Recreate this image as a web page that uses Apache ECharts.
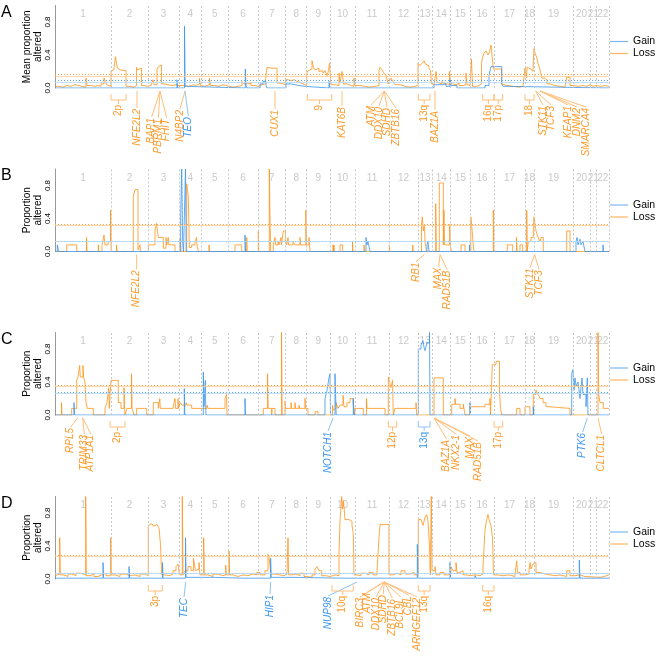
<!DOCTYPE html>
<html><head><meta charset="utf-8">
<script src="https://cdn.jsdelivr.net/npm/echarts@6/dist/echarts.min.js"></script>
<style>html,body{margin:0;padding:0;background:#fff}#c{width:669px;height:656px}</style>
</head><body><div id="c"></div>
<script>
// ---------- chromosome layout (genomic index units) ----------
const chrNames = ['1','2','3','4','5','6','7','8','9','10','11','12','13','14','15','16','17','18','19','20','21','22'];
const chrStarts = [0,56,93,124,146.7,173,203,230.7,251.7,275,300,334,363,377,395.7,415,439,470,479,518,535,541.7,554];

// ---------- panel A : mean proportion altered ----------
const lossA = [[0,0.02],[4,0.01],[8,0.03],[12,0.02],[16,0.04],[20,0.05],[22,0.02],[27,0.01],[31,0.12],[32,0.03],[36,0.02],[40,0.03],[43,0.02],[46,0.05],[49,0.12],[50.5,0.08],[51.5,0.04],[53,0.02],
[56,0.21],[57,0.22],[59,0.25],[60.5,0.38],[61.5,0.30],[62.5,0.24],[64,0.22],[65,0.21],[71,0.02],[75,0.01],[79,0.03],[81.5,0.25],[82.5,0.22],[84,0.24],[86.5,0.03],[89,0.02],
[93,0.03],[96,0.05],[98,0.10],[99,0.04],[102,0.23],[103.5,0.26],[104.5,0.28],[106.5,0.05],[109,0.04],[113,0.03],[117,0.04],[121,0.03],
[124,0.03],[128,0.05],[130,0.02],[134,0.04],[138,0.03],[141,0.05],[144.5,0.12],[145.5,0.03],
[147,0.02],[150,0.04],[154.5,0.12],[155.5,0.03],[160,0.02],[164,0.04],[168,0.03],[171,0.02],
[173,0.01],[178,0.02],[183,0.03],[187,0.08],[189,0.05],[193,0.06],[196,0.03],[200,0.02],
[203,0.04],[207,0.05],[210,0.03],[212,0.25],[214,0.24],[217,0.26],[219,0.24],[222,0.06],[225,0.05],[228,0.04],
[230.7,0.10],[233,0.09],[236,0.10],[239,0.08],[242,0.07],[245,0.05],[248,0.04],[250,0.03],
[251.7,0.18],[253,0.21],[255,0.23],[257,0.33],[258.5,0.25],[260,0.22],[262,0.24],[264,0.20],[266,0.21],[268,0.18],[270,0.21],[272,0.15],[273.5,0.21],[274.5,0.30],
[275,0.22],[276,0.04],[280,0.03],[284,0.18],[285,0.06],[287,0.20],[288.5,0.05],[292,0.03],[296,0.02],[299,0.12],
[300,0.03],[305,0.02],[310,0.01],[315,0.02],[320,0.03],[324,0.21],[325,0.25],[327,0.22],[329,0.18],[331,0.15],[333,0.05],
[334,0.08],[336,0.12],[338,0.08],[340,0.04],[345,0.02],[350,0.01],[355,0.02],[360,0.03],
[363,0.30],[365,0.27],[367,0.30],[369,0.33],[370.5,0.29],[372,0.27],[374,0.24],[375.5,0.21],[376.5,0.05],
[377,0.04],[379,0.03],[381,0.20],[382,0.07],[384,0.05],[387,0.08],[389,0.05],[392,0.04],[394.5,0.20],
[395.7,0.05],[398,0.04],[401,0.06],[404,0.03],[408,0.04],[411,0.18],[412,0.04],[414,0.03],
[415,0.02],[416.5,0.35],[417.5,0.02],[421,0.03],[424,0.05],[426.5,0.30],[427.5,0.37],[429,0.42],[431,0.45],[433,0.40],[434.5,0.44],[436,0.52],[437,0.40],[438.3,0.23],
[439,0.23],[446.7,0.05],[448,0.03],[452,0.02],[458,0.01],[464,0.02],[468,0.03],
[470,0.24],[471.5,0.12],[472,0.25],[474,0.23],[476,0.25],[478,0.20],
[479,0.48],[480,0.42],[481.5,0.38],[483,0.30],[485,0.22],[487,0.12],[489.5,0.10],[492,0.05],[495,0.03],[500,0.02],[505,0.01],[510,0.03],[511.7,0.13],[515,0.03],
[518,0.02],[523,0.03],[528,0.02],[532,0.04],[535,0.02],[538,0.03],[541.7,0.02],[546,0.03],[550,0.02],[554,0.02]];
const gainA = [[0,0],[30,0.02],[31,0],[108,0.02],[109,0],[122,0.10],[122.7,0],[129.5,0.75],[130.2,0.02],[131,0],[190.3,0.23],[191,0.03],[192,0],[205,0.05],[208,0.08],[211,0.03],[212,0],[231,0.05],[236,0.06],[238,0.03],[244,0.02],[250,0],[274,0.08],[275,0],[379,0.04],[388,0.05],[391,0.02],[395,0.10],[396,0.03],[402,0],[430,0.03],[434,0.15],[436,0.26],[446.7,0.05],[448,0.02],[452,0],[554,0]];

// ---------- panel B ----------
const lossB = [[0,0],[11.7,0.08],[21.7,0],[31.5,0.17],[32,0],[43.3,0.08],[43.8,0],[47,0.08],[49,0.2],[50,0.08],[53,0.12],[55.5,0.5],[56.2,0],[61.5,0.08],[62,0],[78.3,0.67],[80,0.75],[83,0.02],[85,0.08],[85.5,0],
[93.3,0.08],[100,0.25],[101.5,0.34],[102.5,0.25],[103.3,0.17],[108.3,0.04],[111,0.17],[111.8,0.08],[113.3,0.17],[113.8,0.08],[120,0],
[125,0.15],[125.7,0.05],[126,0],[131.7,0.82],[132.5,0.75],[133.3,0.67],[134.3,0.05],[136.7,0.08],[140,0.12],[141.5,0.17],[142,0.08],[143.3,0],
[154,0.08],[154.5,0],[180,0.08],[186.7,0],[191.7,0.17],[192.2,0],[203.3,0.25],[203.8,0],
[214.3,1.0],[215,0.42],[215.7,0],[218.3,0.08],[220,0.17],[220.5,0.08],[223,0.12],[224,0.08],[226,0.17],[226.5,0.08],[228.3,0.25],[230.5,0.12],[231.7,0.08],[233,0.17],[233.5,0.08],[238,0.12],[240,0.08],[245,0.17],[245.5,0.08],[250.8,0.5],[251.5,0.08],[254,0.17],[255,0],[278,0.08],[278.5,0],
[279,0.08],[279.5,0],[285,0.08],[287.7,0],[297.5,0.12],[298,0],[309,0.08],[309.5,0],[334.3,0.08],[334.8,0],[357.7,0.08],[358.2,0],
[366.5,0.33],[367.3,0.42],[368.3,0.25],[369.5,0.33],[370,0.12],[371.5,0],
[380.7,0.58],[381.3,0],[384.3,0.83],[388.3,0.08],[389,0.5],[389.6,0.08],[394.7,0.33],[395.2,0.08],[396.5,0],
[406,0.08],[410,0],[415.8,0.42],[416.5,0.33],[417.2,0.25],[418,0.12],[419,0],[438.3,0.5],[438.8,0],
[452.3,0.08],[457.7,0],[461.5,0.17],[462,0],[465,0.08],[467.7,0],
[471.7,0.5],[472.2,0],[473.3,0.12],[476,0.17],[478.3,0.25],[479,0.42],[480,0.33],[481,0.25],[483,0.17],[485,0.12],[486,0.17],[488.3,0],
[511.7,0.25],[515,0],[554,0]];
const gainB = [[0,0],[2.3,0.08],[3.7,0],[125.7,0.45],[126.7,1.0],[127.7,0.1],[128.5,0],[130.5,1.0],[131.2,0],[190,0.2],[190.5,0],[311,0.17],[312,0.08],[313,0.12],[315,0],[372,0.08],[373,0.12],[374,0],[414.5,0.08],[415,0],[521,0.12],[522,0.17],[523,0.08],[525,0.15],[526,0.08],[528,0.12],[530,0],[548,0.08],[548.5,0],[554,0]];

// ---------- panel C ----------
const lossC = [[0,0],[6.5,0.15],[7,0],[16.7,0.08],[21.7,0.42],[23,0.46],[24.7,0.6],[25.3,0.46],[28,0.6],[28.6,0.46],[30,0.4],[31,0.15],[32.3,0.08],[38.3,0],
[50,0.08],[52,0.15],[53.7,0.33],[54.3,0.08],[56,0.42],[63.3,0.15],[66,0.08],[69,0.33],[69.6,0.08],[70,0],[72,0.08],[76.5,0.5],[77.1,0.08],[79,0],[81.7,0.08],[91.7,0],
[98.3,0.15],[103.3,0.08],[104.8,0.2],[105.3,0.08],[118,0.08],[120,0.2],[120.6,0.08],[123,0.2],[123.5,0.08],[125,0.15],[127,0.12],[131,0.15],[132,0.12],[136.7,0.08],
[148,0.08],[152,0.12],[153,0.08],[170,0.2],[171.5,0.25],[172,0],
[208.3,0.08],[212.5,0.5],[213.2,0.08],[216.7,0],[217,0.08],[220,0],[226.5,1.0],[227.2,0],
[230,0.17],[230.6,0.08],[236,0.15],[236.5,0.08],[240,0.15],[240.5,0.08],[244,0.12],[244.6,0.08],[250,0.2],[250.6,0.08],[253,0],[260,0.04],[263,0],[277.5,0.12],[278.3,0.06],
[279,0.08],[281,0.15],[283,0.08],[285,0.12],[288,0.24],[289,0.1],[292,0.15],[295,0.2],[298,0.15],[299.5,0],
[300,0.08],[308.3,0],[311.5,0.2],[312,0.08],[330,0],
[333.3,0.46],[334.5,0.4],[336,0.33],[337.5,0.42],[338.3,0],[340,0.08],[361,0.15],[361.7,0],
[379,0.45],[388.3,0],[396.7,0.13],[400,0.2],[400.5,0.13],[405,0.08],[408.3,0.13],[410,0],
[415,0.1],[430,0.13],[435,0.2],[435.5,0],[437.3,0.61],[441,0.65],[444.5,0.3],[445.5,0.08],[446.7,0],
[461.7,0.08],[465,0],[470,0.1],[475,0],[478.3,0.25],[481,0.3],[483,0.25],[485,0.2],[488,0.15],[491,0.1],[495,0.08],[515,0],
[543,1.0],[543.7,0.25],[545,0.15],[548.3,0.08],[554,0.08]];
const gainC = [[0,0],[19,0.15],[19.5,0],[129.3,0.32],[129.8,0],[148.3,0.52],[149,0.1],[150.3,0.42],[150.9,0],[190,0.2],[190.5,0],[270,0.2],[272,0.3],[274,0.45],[275,0.5],[275.5,0],[280,0.5],[280.6,0.25],[281.2,0],[298.3,0.2],[299,0],[363.3,0.8],[366,0.85],[368,0.9],[369,0.82],[370,0.78],[372,0.88],[374.5,1.0],[375,0],[415,0.15],[415.5,0],[478.3,0.1],[479,0],[516.7,0.5],[518,0.55],[519,0.3],[520,0.45],[521,0.35],[523,0.4],[525,0.2],[527,0.45],[528,0.25],[531,0.1],[532.3,0.45],[533,0],[554,0]];

// ---------- panel D ----------
const lossD = [[0,0.04],[2,0.06],[4.7,0.5],[5.3,0.05],[9,0.03],[13,0.06],[17,0.04],[21,0.07],[25,0.05],[30.7,1.0],[31.3,0.04],[35,0.06],[39,0.03],[43,0.05],[47,0.07],[51,0.04],[55.7,0.5],[56.3,0.05],[60,0.03],[65,0.06],[70,0.04],[75,0.05],[80,0.03],[85,0.06],[90,0.08],[92,0.04],
[93.3,0.65],[95,0.67],[97,0.69],[98.5,0.64],[100,0.66],[102,0.65],[104,0.62],[105.5,0.42],[106.7,0.05],[110,0.04],[114,0.06],[118,0.1],[121,0.15],[123,0.18],[124.5,0.05],
[127.3,1.0],[128,0.05],[130,0.1],[133,0.15],[136,0.1],[138.5,0.25],[139.5,0.27],[140.5,0.1],[142,0.12],[144,0.2],[145,0.05],
[148.7,0.5],[149.3,0.05],[153,0.03],[158,0.06],[163,0.04],[168,0.05],[170.7,0.17],[171.3,0.05],[174,0.34],[174.6,0.05],[178,0.03],[183,0.05],[188,0.04],[193,0.06],[198,0.05],[202,0.08],
[205,0.05],[210,0.1],[213,0.3],[214,0.27],[215,0.15],[216,0.06],[220,0.05],[225,0.04],[229,0.06],
[232,0.04],[233,0.5],[233.6,0.05],[237,0.06],[241,0.04],[245,0.07],[249,0.03],
[252,0.02],[257,0.05],[260,0.12],[262,0.15],[264,0.1],[266.7,0.04],[271,0.03],
[275,0.05],[280,0.04],[284,0.3],[285,0.7],[286.7,1.0],[287.5,0.85],[288.5,0.95],[290,0.72],[294,0.7],[297,0.65],[298.3,0.55],[299,0.05],
[302,0.04],[306,0.07],[310,0.05],[314,0.08],[318,0.05],[322,0.1],[324,0.5],[325,0.66],[334,0.05],
[338,0.07],[342,0.05],[346,0.1],[350,0.06],[355,0.08],[359,0.05],
[363.3,0.72],[366,0.7],[368,0.65],[370,0.75],[371.7,0.78],[373,0.7],[374.5,0.4],[375.3,0.05],[376.3,1.0],[377,0.1],[380,0.15],[381,0.05],[385,0.08],[389,0.05],[393,0.06],
[396,0.15],[398,0.1],[401,0.2],[402,0.08],[405,0.1],[408,0.05],[412,0.04],
[415,0.05],[420,0.04],[425,0.06],[428,0.15],[430,0.6],[431.7,0.72],[433,0.78],[434.5,0.7],[436,0.65],[437.5,0.5],[438.5,0.05],
[442,0.04],[448,0.05],[454,0.03],[460,0.06],[461.7,0.22],[462.5,0.08],[465,0.05],[470,0.06],
[474,0.1],[475,0.2],[476,0.12],[478,0.18],[480,0.2],[481,0.08],[485,0.06],[490,0.04],[500,0.05],[505,0.03],[511.7,0.1],[515,0.04],[520,0.05],[525,0.03],[530,0.02],[545,0.03],[549,0.05],[554,0.05]];
const gainD = [[0,0.01],[10,0.03],[11,0.01],[25,0.02],[26,0.01],[48,0.2],[48.6,0.01],[74,0.15],[74.6,0.01],[107.5,0.2],[108.1,0.01],[130.5,0.5],[131.1,0.02],[160,0.03],[161,0.01],[188,0.03],[189,0.01],[215.6,0.25],[216.2,0.02],[236,0.03],[237,0.01],[290,0.03],[291,0.01],[362.3,0.42],[363,0.01],[395,0.2],[395.6,0.01],[420,0.04],[421,0.01],[524.3,0.23],[525,0.01],[554,0.01]];

// thresholds per panel (A,B,C,D)
const lossThreshold = [0.17, 0.325, 0.36, 0.29];
const lossBand      = [0.145, 0.32, 0.355, 0.285];
const gainThreshold = [0.085, 0.12, 0.275, 0.07];
const gainBand      = [0.07, 0.115, 0.26, 0.065];

const panelLetters = ['A','B','C','D'];
const yTitles = ['Mean proportion\naltered','Proportion\naltered','Proportion\naltered','Proportion\naltered'];

// annotations: g = gene index, l = label index, d = label drop below baseline (px), arm = [from,to]
const annotations = [
 [ {t:'2p',arm:[56,71],c:'L'}, {t:'NFE2L2',g:82,l:82,d:21,c:'L'},
   {t:'BAP1',g:105,l:96.7,d:30,c:'L'},{t:'PBRM1',g:105,l:103.3,d:31,c:'L'},{t:'FHIT',g:105,l:111.7,d:31,c:'L'},
   {t:'N4BP2',g:130,l:125,d:22,c:'L'},{t:'TEO',g:130,l:133.3,d:29,c:'G'},
   {t:'CUX1',g:220,l:220,d:22,c:'L'}, {t:'9',arm:[252.3,276.7],c:'L'}, {t:'KAT6B',g:287,l:287,d:19,c:'L'},
   {t:'ATM',g:329.3,l:316,d:18,c:'L'},{t:'DDX10',g:329.3,l:324,d:19,c:'L'},{t:'SDHD',g:329.3,l:332,d:20,c:'L'},{t:'ZBTB16',g:329.3,l:341,d:21,c:'L'},
   {t:'13q',arm:[363.3,375],c:'L'}, {t:'BAZ1A',g:380,l:380,d:23,c:'L'},
   {t:'16q',arm:[427.7,439],c:'L'}, {t:'17p',arm:[439,447.7],c:'L'}, {t:'18',arm:[470,479],c:'L'},
   {t:'STK11',g:480.7,l:488,d:18,c:'L'},{t:'TCF3',g:480.7,l:496,d:18,c:'L'},
   {t:'KEAP1',g:485,l:513,d:18,c:'L'},{t:'DNM2',g:485,l:522,d:20,c:'L'},{t:'SMARCA4',g:485,l:531,d:20,c:'L'} ],
 [ {t:'NFE2L2',g:81.7,l:81.7,d:19,c:'L'}, {t:'RB1',g:369.3,l:361,d:11,c:'L'},
   {t:'MAX',g:385,l:383.7,d:16,c:'L'},{t:'RAD51B',g:385,l:392,d:19,c:'L'},
   {t:'STK11',g:479.7,l:475,d:17,c:'L'},{t:'TCF3',g:479.7,l:484,d:19,c:'L'} ],
 [ {t:'RPL5',g:22.7,l:15.7,d:13,c:'L'},{t:'TRIM33',g:27.7,l:29.3,d:20,c:'L'},{t:'ATP1A1',g:27.7,l:35.7,d:20,c:'L'},
   {t:'2p',arm:[55,70],c:'L'}, {t:'NOTCH1',g:278,l:273,d:17,c:'G'}, {t:'12p',arm:[333.3,341.7],c:'L'},
   {t:'13q',arm:[363.3,375],c:'G'},
   {t:'BAZ1A',g:379,l:391.7,d:25,c:'L'},{t:'NKX2-1',g:379,l:401,d:20,c:'L'},{t:'MAX',g:379,l:415,d:22,c:'L'},{t:'RAD51B',g:379,l:423,d:27,c:'L'},
   {t:'17p',arm:[439,447.7],c:'L'}, {t:'PTK6',g:532.3,l:527.7,d:18,c:'G'}, {t:'CLTCL1',g:543,l:546.7,d:20,c:'L'} ],
 [ {t:'3p',arm:[93.3,107.3],c:'L'}, {t:'TEC',g:130.7,l:129,d:19,c:'G'}, {t:'HIP1',g:215.7,l:215,d:16,c:'G'},
   {t:'NUP98',g:302,l:273,d:18,c:'G'}, {t:'10q',arm:[277,298.3],c:'L'},
   {t:'BIRC3',g:329.3,l:305,d:19,c:'L'},{t:'ATM',g:329.3,l:312.3,d:14,c:'L'},{t:'DDX10',g:329.3,l:321,d:19,c:'L'},{t:'SDHD',g:329.3,l:328.3,d:16,c:'L'},
   {t:'ZBTB16',g:329.3,l:337.3,d:20,c:'L'},{t:'BCL9L',g:329.3,l:345.7,d:19,c:'L'},{t:'CBL',g:329.3,l:353.7,d:17,c:'L'},{t:'ARHGEF12',g:329.3,l:362.3,d:19,c:'L'},
   {t:'13q',arm:[363.3,375],c:'L'}, {t:'16q',arm:[427.7,439],c:'L'} ]
];

// ---------- styling ----------
const FONT = '"Liberation Sans", Arial, Helvetica, sans-serif';
const LOSS = '#FF9419', GAIN = '#3A95EE';
const LOSS_TXT = '#FF9A2A', GAIN_TXT = '#3D98EE';
const LOSS_LN = '#FFBE78', GAIN_LN = '#8EC3F3';
const gridTops = [5.5, 169, 332.5, 496.5];
const gridH = 82.5;
const legendTops = [36, 199.5, 362.5, 526.5];

const lossData = [lossA, lossB, lossC, lossD];
const gainData = [gainA, gainB, gainC, gainD];

const chart = echarts.init(document.getElementById('c'), null, {renderer: 'canvas'});

const grids = [], xAxes = [], yAxes = [], series = [], legends = [];
const chrMid = chrNames.map((n, i) => [(chrStarts[i] + chrStarts[i+1]) / 2, 0.89, n]);

for (let p = 0; p < 4; p++) {
  grids.push({left: 55, width: 554, top: gridTops[p], height: gridH, containLabel: false});
  xAxes.push({type: 'value', gridIndex: p, min: 0, max: 554, show: false});
  yAxes.push({type: 'value', gridIndex: p, min: 0, max: 1, interval: 0.4,
    name: yTitles[p], nameLocation: 'middle', nameGap: 11, nameRotate: 90, nameMoveOverlap: false,
    nameTextStyle: {fontFamily: FONT, fontSize: 10, color: '#000', lineHeight: 11},
    axisLine: {show: true, lineStyle: {color: '#999', width: 1}},
    axisTick: {show: false},
    splitLine: {show: false},
    axisLabel: {rotate: 90, margin: 3, fontFamily: FONT, fontSize: 8, color: '#000',
      formatter: v => v > 0.9 ? '' : v.toFixed(1)}
  });
  // chromosome labels + boundaries
  series.push({type: 'scatter', xAxisIndex: p, yAxisIndex: p, data: chrMid, symbolSize: 0, silent: true,
    label: {show: true, position: 'inside', formatter: d => d.data[2], color: '#BBBBBB', fontSize: 10, fontFamily: FONT},
    markLine: {silent: true, symbol: 'none', label: {show: false},
      lineStyle: {color: '#C8C8C8', type: [2, 2], width: 1},
      data: chrStarts.slice(1).map(v => ({xAxis: v}))}
  });
  series.push({name: 'Loss', type: 'line', step: 'end', xAxisIndex: p, yAxisIndex: p, data: lossData[p],
    symbol: 'none', showSymbol: false, color: LOSS, lineStyle: {color: LOSS, width: 1, opacity: 0.8}, z: 3,
    markLine: {silent: true, symbol: 'none', label: {show: false}, data: [
      {yAxis: lossThreshold[p], lineStyle: {color: '#FFA040', type: [1, 2], width: 1}},
      {yAxis: lossBand[p], lineStyle: {color: '#FFCB94', type: 'solid', width: 1.2, opacity: 0.8}}
    ]}
  });
  series.push({name: 'Gain', type: 'line', step: 'end', xAxisIndex: p, yAxisIndex: p, data: gainData[p],
    symbol: 'none', showSymbol: false, color: GAIN, lineStyle: {color: GAIN, width: 1, opacity: 0.8}, z: 4,
    markLine: {silent: true, symbol: 'none', label: {show: false}, data: [
      {yAxis: gainThreshold[p], lineStyle: {color: '#5AA8F0', type: [1, 2], width: 1}},
      {yAxis: gainBand[p], lineStyle: {color: '#B5D8F7', type: 'solid', width: 1.2, opacity: 0.8}}
    ]}
  });
  legends.push({data: [{name: 'Gain', itemStyle: {color: '#7DB7F2'}}, {name: 'Loss', itemStyle: {color: '#FFB462'}}],
    orient: 'vertical', left: 610, top: legendTops[p], padding: 0,
    icon: 'rect', itemWidth: 18, itemHeight: 1.2, itemGap: 1, itemTextGap: 7, selectedMode: false,
    textStyle: {fontFamily: FONT, fontSize: 10.5, color: '#000', lineHeight: 11}});
}

chart.setOption({
  animation: false,
  backgroundColor: '#fff',
  grid: grids, xAxis: xAxes, yAxis: yAxes, series: series, legend: legends
});

// ---------- annotations (placed via the chart's own scales) ----------
const graphics = [];
panelLetters.forEach((L, p) => {
  graphics.push({type: 'text', left: 1, top: gridTops[p] - 1,
    style: {text: L, font: '16px ' + FONT, fill: '#000'}});
});
annotations.forEach((list, p) => {
  const base = chart.convertToPixel({gridIndex: p}, [0, 0])[1];
  list.forEach(a => {
    const isG = a.c === 'G';
    const tc = isG ? GAIN_TXT : LOSS_TXT, lc = isG ? GAIN_LN : LOSS_LN;
    if (a.arm) {
      const x1 = chart.convertToPixel({gridIndex: p}, [a.arm[0], 0])[0];
      const x2 = chart.convertToPixel({gridIndex: p}, [a.arm[1], 0])[0];
      const xm = (x1 + x2) / 2;
      graphics.push({type: 'polyline', silent: true,
        shape: {points: [[x1, base + 6], [x1, base + 12], [x2, base + 12], [x2, base + 6]]},
        style: {stroke: lc, lineWidth: 1, fill: null}});
      graphics.push({type: 'line', silent: true, shape: {x1: xm, y1: base + 12, x2: xm, y2: base + 16},
        style: {stroke: lc, lineWidth: 1}});
      graphics.push({type: 'text', silent: true, x: xm, y: base + 17, rotation: Math.PI / 2,
        style: {text: a.t, font: '10px ' + FONT, fill: tc, align: 'right', verticalAlign: 'middle'}});
    } else {
      const xg = chart.convertToPixel({gridIndex: p}, [a.g, 0])[0];
      const xl = chart.convertToPixel({gridIndex: p}, [a.l, 0])[0];
      graphics.push({type: 'line', silent: true, shape: {x1: xg, y1: base + 3, x2: xl, y2: base + a.d - 1},
        style: {stroke: lc, lineWidth: 1}});
      graphics.push({type: 'text', silent: true, x: xl, y: base + a.d, rotation: Math.PI / 2,
        style: {text: a.t, font: 'italic 10px ' + FONT, fill: tc, align: 'right', verticalAlign: 'middle'}});
    }
  });
});
chart.setOption({graphic: graphics});
</script>
</body></html>
